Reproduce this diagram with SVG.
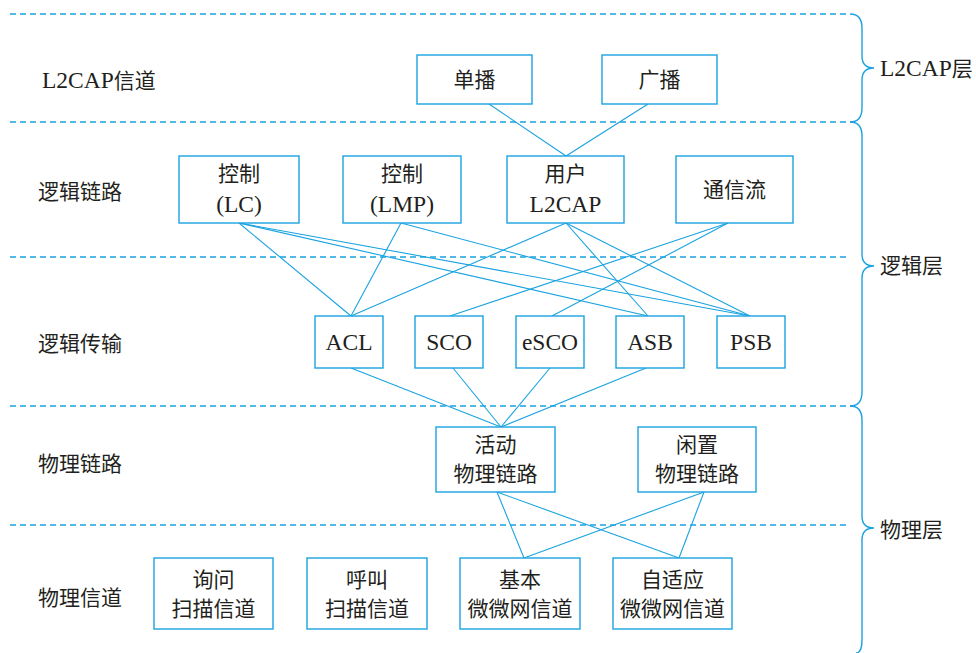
<svg xmlns="http://www.w3.org/2000/svg" width="976" height="653" viewBox="0 0 976 653">
<style>
.bg{fill:#ffffff}
.dash{stroke:#1aa3e0;stroke-width:1.3;stroke-dasharray:6 4;fill:none}
.brace{stroke:#1aa3e0;stroke-width:1.4;fill:none}
.box{fill:#ffffff;stroke:#1aa3e0;stroke-width:1.4}
.ln{stroke:#1aa3e0;stroke-width:1.1;fill:none}
text{font-family:"Liberation Serif","Noto Sans CJK SC",serif;font-size:21px;fill:#231f20}
.l{font-size:23.5px}
.c{text-anchor:middle}
</style>
<rect class="bg" x="0" y="0" width="976" height="653"/>
<g id="layers">
<line class="dash" x1="10" y1="14" x2="850" y2="14"/>
<line class="dash" x1="10" y1="122" x2="850" y2="122"/>
<line class="dash" x1="10" y1="257" x2="850" y2="257"/>
<line class="dash" x1="10" y1="406" x2="850" y2="406"/>
<line class="dash" x1="10" y1="525" x2="850" y2="525"/>
<path class="brace" d="M850,14 Q862,14 862,28 L862,56 Q862,68 874,68 Q862,68 862,80 L862,108 Q862,122 850,122"/>
<path class="brace" d="M850,122 Q862,122 862,136 L862,254 Q862,266 874,266 Q862,266 862,278 L862,392 Q862,406 850,406"/>
<path class="brace" d="M850,406 Q862,406 862,420 L862,516 Q862,528 874,528 Q862,528 862,540 L862,640 Q862,653 856,653"/>
<text x="880" y="76"><tspan class="l">L2CAP</tspan>层</text>
<text x="880" y="273">逻辑层</text>
<text x="880" y="537">物理层</text>
<text x="42" y="88"><tspan class="l">L2CAP</tspan>信道</text>
<text x="38" y="199">逻辑链路</text>
<text x="38" y="351">逻辑传输</text>
<text x="38" y="471">物理链路</text>
<text x="38" y="605">物理信道</text>
</g>
<g id="connectors">
<line class="ln" x1="489" y1="104" x2="566" y2="156"/>
<line class="ln" x1="648" y1="104" x2="566" y2="156"/>
<line class="ln" x1="239" y1="223" x2="351" y2="316"/>
<line class="ln" x1="239" y1="223" x2="648" y2="316"/>
<line class="ln" x1="239" y1="223" x2="750" y2="316"/>
<line class="ln" x1="401" y1="223" x2="351" y2="316"/>
<line class="ln" x1="401" y1="223" x2="750" y2="316"/>
<line class="ln" x1="566" y1="223" x2="351" y2="316"/>
<line class="ln" x1="566" y1="223" x2="648" y2="316"/>
<line class="ln" x1="566" y1="223" x2="750" y2="316"/>
<line class="ln" x1="728" y1="223" x2="450" y2="316"/>
<line class="ln" x1="728" y1="223" x2="552" y2="316"/>
<line class="ln" x1="351" y1="368" x2="501" y2="427"/>
<line class="ln" x1="453" y1="368" x2="501" y2="427"/>
<line class="ln" x1="550" y1="368" x2="501" y2="427"/>
<line class="ln" x1="646" y1="368" x2="501" y2="427"/>
<line class="ln" x1="497" y1="492" x2="524" y2="558"/>
<line class="ln" x1="497" y1="492" x2="679" y2="558"/>
<line class="ln" x1="704" y1="492" x2="524" y2="558"/>
<line class="ln" x1="704" y1="492" x2="679" y2="558"/>
</g>
<g id="n-unicast"><rect class="box" x="417" y="55" width="115" height="49"/><text class="c" x="474.5" y="87">单播</text></g>
<g id="n-broadcast"><rect class="box" x="602" y="55" width="115" height="49"/><text class="c" x="659.5" y="87">广播</text></g>
<g id="n-lc"><rect class="box" x="179" y="156" width="120" height="67"/><text class="c" x="239" y="181">控制</text><text class="c l" x="239" y="212">(LC)</text></g>
<g id="n-lmp"><rect class="box" x="343" y="156" width="118" height="67"/><text class="c" x="402" y="181">控制</text><text class="c l" x="402" y="212">(LMP)</text></g>
<g id="n-user"><rect class="box" x="507" y="156" width="117" height="67"/><text class="c" x="565.5" y="181">用户</text><text class="c l" x="565.5" y="212">L2CAP</text></g>
<g id="n-stream"><rect class="box" x="676" y="156" width="117" height="67"/><text class="c" x="734.5" y="197">通信流</text></g>
<g id="n-acl"><rect class="box" x="315" y="316" width="68" height="52"/><text class="c l" x="349" y="350">ACL</text></g>
<g id="n-sco"><rect class="box" x="415" y="316" width="68" height="52"/><text class="c l" x="449" y="350">SCO</text></g>
<g id="n-esco"><rect class="box" x="516" y="316" width="68" height="52"/><text class="c l" x="550" y="350">eSCO</text></g>
<g id="n-asb"><rect class="box" x="616" y="316" width="68" height="52"/><text class="c l" x="650" y="350">ASB</text></g>
<g id="n-psb"><rect class="box" x="717" y="316" width="68" height="52"/><text class="c l" x="751" y="350">PSB</text></g>
<g id="n-active"><rect class="box" x="436" y="427" width="119" height="65"/><text class="c" x="495.5" y="452">活动</text><text class="c" x="495.5" y="481">物理链路</text></g>
<g id="n-idle"><rect class="box" x="638" y="427" width="118" height="65"/><text class="c" x="697" y="452">闲置</text><text class="c" x="697" y="481">物理链路</text></g>
<g id="n-inquiry"><rect class="box" x="154" y="558" width="119" height="71"/><text class="c" x="213.5" y="587">询问</text><text class="c" x="213.5" y="616">扫描信道</text></g>
<g id="n-page"><rect class="box" x="307" y="558" width="120" height="71"/><text class="c" x="367" y="587">呼叫</text><text class="c" x="367" y="616">扫描信道</text></g>
<g id="n-basic"><rect class="box" x="460" y="558" width="120" height="71"/><text class="c" x="520" y="587">基本</text><text class="c" x="520" y="616">微微网信道</text></g>
<g id="n-adaptive"><rect class="box" x="613" y="558" width="119" height="71"/><text class="c" x="672.5" y="587">自适应</text><text class="c" x="672.5" y="616">微微网信道</text></g>
</svg>
